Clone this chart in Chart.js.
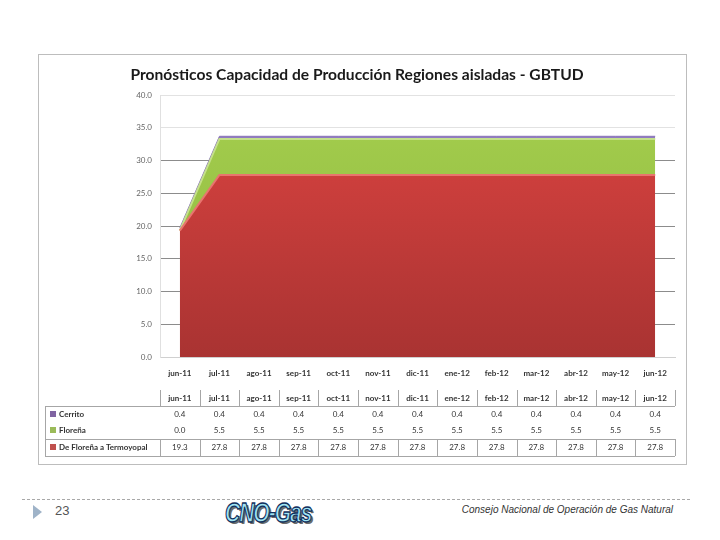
<!DOCTYPE html>
<html>
<head>
<meta charset="utf-8">
<script src="https://cdn.jsdelivr.net/npm/chart.js@4.4.0/dist/chart.umd.min.js"></script>
<style>
  body { margin: 0; width: 720px; height: 540px; background: #fff; position: relative; overflow: hidden; font-family: Lato, "Open Sans", sans-serif; }
  #box { position: absolute; left: 38px; top: 54px; width: 647px; height: 409px; border: 1px solid #bdbdbd; }
  #box canvas { position: absolute; left: 0; top: 0; }
  #rule { position: absolute; left: 22px; top: 499px; width: 668px; border-top: 1px dashed #a8a8a8; }
  #tri { position: absolute; left: 33px; top: 505px; width: 0; height: 0; border-top: 7px solid transparent; border-bottom: 7px solid transparent; border-left: 9px solid #9fb3c8; }
  #page { position: absolute; left: 55px; top: 503px; font: 13px "Liberation Sans", Arial, sans-serif; color: #555; }
  #logo { position: absolute; left: 225px; top: 497px; font: italic bold 21px "Liberation Sans Narrow", "Liberation Sans", sans-serif; color: #9fe4f4; -webkit-text-stroke: 1px #10305e; letter-spacing: -1px; text-shadow: 2px 2px 0 #6b6b6b; transform: scaleY(1.3); transform-origin: top left; }
  #org { position: absolute; right: 47px; top: 504px; font: italic 10px "Liberation Sans", Arial, sans-serif; color: #333; }
</style>
</head>
<body>
<div id="box"><canvas id="chart" width="647" height="409"></canvas></div>
<div id="rule"></div>
<div id="tri"></div>
<div id="page">23</div>
<div id="logo">CNO-Gas</div>
<div id="org">Consejo Nacional de Operación de Gas Natural</div>
<script>
const months = ['jun-11', 'jul-11', 'ago-11', 'sep-11', 'oct-11', 'nov-11', 'dic-11', 'ene-12', 'feb-12', 'mar-12', 'abr-12', 'may-12', 'jun-12'];
const termoyopal = [19.3, 27.8, 27.8, 27.8, 27.8, 27.8, 27.8, 27.8, 27.8, 27.8, 27.8, 27.8, 27.8];
const florena = [0.0, 5.5, 5.5, 5.5, 5.5, 5.5, 5.5, 5.5, 5.5, 5.5, 5.5, 5.5, 5.5];
const cerrito = [0.4, 0.4, 0.4, 0.4, 0.4, 0.4, 0.4, 0.4, 0.4, 0.4, 0.4, 0.4, 0.4];
const yTicks = [0, 5, 10, 15, 20, 25, 30, 35, 40];

// filas de la tabla, en el orden del grafico original
const tableRows = [
    { name: 'Cerrito', color: '#8064a2', values: cerrito },
    { name: 'Floreña', color: '#9bbb59', values: florena },
    { name: 'De Floreña a Termoyopal', color: '#c0504d', values: termoyopal }
];

function vGrad(ctx, area, top, bottom) {
    if (!area) return top;
    const g = ctx.createLinearGradient(0, area.top, 0, area.bottom);
    g.addColorStop(0, top);
    g.addColorStop(1, bottom);
    return g;
}

const dataTable = {
    id: 'dataTable',
    afterDraw(chart) {
        const ctx = chart.ctx;
        const x = chart.scales.x;
        const colW = x.getPixelForValue(1) - x.getPixelForValue(0);
        const left = x.getPixelForValue(0) - colW / 2;
        const right = x.getPixelForValue(months.length - 1) + colW / 2;
        const legendLeft = 6;
        const headY = 343, rowY = [359, 375, 392];
        ctx.save();
        ctx.strokeStyle = '#a6a6a6';
        ctx.lineWidth = 1;
        const hline = (y, x0, x1) => { ctx.beginPath(); ctx.moveTo(x0, y + 0.5); ctx.lineTo(x1, y + 0.5); ctx.stroke(); };
        const vline = (xx, y0, y1) => { ctx.beginPath(); ctx.moveTo(Math.round(xx) + 0.5, y0); ctx.lineTo(Math.round(xx) + 0.5, y1); ctx.stroke(); };
        hline(351, legendLeft, right);
        hline(384, legendLeft, right);
        hline(401, legendLeft, right);
        vline(legendLeft, 351, 401);
        for (let i = 0; i <= months.length; i++) {
            vline(left + i * colW, 335, 351);
            vline(left + i * colW, 384, 401);
        }
        ctx.textAlign = 'center';
        ctx.textBaseline = 'middle';
        ctx.fillStyle = '#333';
        ctx.font = 'bold 8px Lato, sans-serif';
        months.forEach((m, i) => ctx.fillText(m, x.getPixelForValue(i), headY));
        ctx.font = '8px Lato, sans-serif';
        tableRows.forEach((row, r) => {
            row.values.forEach((v, i) => ctx.fillText(v.toFixed(1), x.getPixelForValue(i), rowY[r]));
            ctx.fillStyle = row.color;
            ctx.fillRect(legendLeft + 5, rowY[r] - 3, 6, 6);
            ctx.fillStyle = '#333';
            ctx.textAlign = 'left';
            ctx.font = 'bold 8px Lato, sans-serif';
            ctx.fillText(row.name, legendLeft + 14, rowY[r]);
            ctx.font = '8px Lato, sans-serif';
            ctx.textAlign = 'center';
        });
        ctx.restore();
    }
};

new Chart(document.getElementById('chart'), {
    type: 'line',
    data: {
        labels: months,
        datasets: [
            {
                label: 'De Floreña a Termoyopal',
                data: termoyopal,
                fill: 'origin',
                borderColor: '#e8746e',
                borderWidth: 2,
                backgroundColor: c => vGrad(c.chart.ctx, c.chart.chartArea, '#dc4441', '#a93332')
            },
            {
                label: 'Floreña',
                data: florena,
                fill: '-1',
                borderColor: '#c4e08a',
                borderWidth: 2,
                backgroundColor: c => vGrad(c.chart.ctx, c.chart.chartArea, '#a5cf4e', '#8cb43e')
            },
            {
                label: 'Cerrito',
                data: cerrito,
                fill: '-1',
                borderColor: '#8a74b8',
                borderWidth: 1,
                backgroundColor: '#8f7cc0'
            }
        ]
    },
    options: {
        responsive: false,
        animation: false,
        layout: { padding: { left: 0, right: 11, top: 0, bottom: 0 } },
        elements: { point: { radius: 0 }, line: { tension: 0 } },
        scales: {
            x: {
                offset: true,
                grid: { display: false },
                border: { color: '#d0d0d0' },
                ticks: { color: '#333', font: { family: 'Lato', size: 8, weight: 'bold' }, padding: 4, maxRotation: 0 },
                afterFit: s => { s.height = 107; }
            },
            y: {
                stacked: true,
                min: 0,
                max: 40,
                afterBuildTicks: s => { s.ticks = yTicks.map(v => ({ value: v })); },
                grid: {
                    drawTicks: false,
                    color: c => (c.tick && c.tick.value >= 35) ? '#e2e2e2' : '#8c8c8c'
                },
                border: { color: '#e0e0e0' },
                ticks: { color: '#666', font: { family: 'Lato', size: 8 }, padding: 8, callback: v => v.toFixed(1) },
                afterFit: s => { s.width = 121; }
            }
        },
        plugins: {
            legend: { display: false },
            tooltip: { enabled: false },
            title: {
                display: true,
                text: 'Pronósticos Capacidad de Producción Regiones aisladas - GBTUD',
                color: '#1a1a1a',
                font: { family: 'Lato', size: 15.6, weight: 'bold' },
                padding: { top: 11, bottom: 10.3 }
            }
        }
    },
    plugins: [dataTable]
});
</script>
</body>
</html>
